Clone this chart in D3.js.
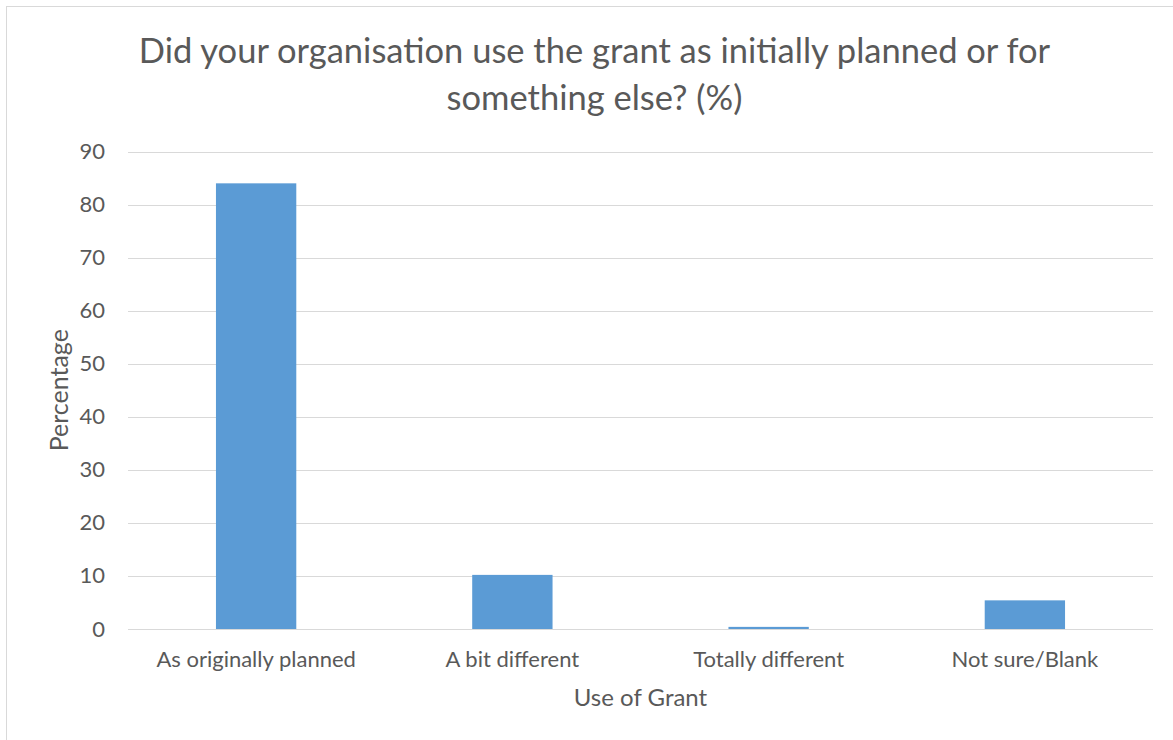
<!DOCTYPE html>
<html>
<head>
<meta charset="utf-8">
<script src="https://cdn.jsdelivr.net/npm/d3@7"></script>
<style>
  html, body { margin: 0; padding: 0; background: #fff; }
  svg { display: block; font-family: Lato, "Open Sans", sans-serif; }
</style>
</head>
<body>
<svg id="chart" width="1173" height="740"></svg>
<script>
// Survey responses: how the grant was used
const categories = ["As originally planned", "A bit different", "Totally different", "Not sure/Blank"];
const percentages = [84.0, 10.2, 0.4, 5.4];
const yTicks = [0, 10, 20, 30, 40, 50, 60, 70, 80, 90];
const titleLines = ["Did your organisation use the grant as initially planned or for", "something else? (%)"];
const xAxisTitle = "Use of Grant";
const yAxisTitle = "Percentage";

const svg = d3.select("#chart");
const textColor = "#595959";
const gridColor = "#d9d9d9";
const barColor = "#5b9bd5";

// chart frame
svg.append("rect")
  .attr("x", 6.5).attr("y", 6.5)
  .attr("width", 1180).attr("height", 760)
  .attr("fill", "#fff")
  .attr("stroke", gridColor).attr("stroke-width", 1);

const plot = { left: 128, right: 1153, top: 151.5, bottom: 629 };

const x = d3.scaleBand()
  .domain(categories)
  .range([plot.left, plot.right])
  .paddingInner(0.6865)
  .paddingOuter(0.34325);

const y = d3.scaleLinear()
  .domain([0, 90])
  .range([plot.bottom, plot.top]);

// horizontal gridlines
svg.append("g")
  .selectAll("line")
  .data(yTicks)
  .join("line")
  .attr("x1", plot.left).attr("x2", plot.right)
  .attr("y1", d => Math.round(y(d)) + 0.5)
  .attr("y2", d => Math.round(y(d)) + 0.5)
  .attr("stroke", gridColor).attr("stroke-width", 1);

// y axis labels
const yAxis = d3.axisLeft(y).tickValues(yTicks).tickSize(0).tickPadding(0);
const yg = svg.append("g")
  .attr("transform", `translate(${plot.left - 23},0)`)
  .call(yAxis);
yg.select(".domain").remove();
yg.selectAll("text")
  .attr("fill", textColor)
  .style("font-size", "22px")
  .style("font-family", "Lato, sans-serif");

// bars
svg.append("g")
  .selectAll("rect")
  .data(categories.map((c, i) => ({ c, v: percentages[i] })))
  .join("rect")
  .attr("x", d => x(d.c))
  .attr("width", x.bandwidth())
  .attr("y", d => y(d.v))
  .attr("height", d => y(0) - y(d.v))
  .attr("fill", barColor);

// x axis labels
const xAxis = d3.axisBottom(x).tickSize(0).tickPadding(0);
const xg = svg.append("g")
  .attr("transform", `translate(0,${plot.bottom + 22})`)
  .call(xAxis);
xg.select(".domain").remove();
xg.selectAll("text")
  .attr("fill", textColor)
  .style("font-size", "22px")
  .style("font-family", "Lato, sans-serif");

// axis titles
svg.append("text")
  .attr("x", (plot.left + plot.right) / 2)
  .attr("y", 706)
  .attr("text-anchor", "middle")
  .attr("fill", textColor)
  .style("font-size", "24px")
  .text(xAxisTitle);

svg.append("text")
  .attr("transform", `translate(68,${(plot.top + plot.bottom) / 2}) rotate(-90)`)
  .attr("text-anchor", "middle")
  .attr("fill", textColor)
  .style("font-size", "25px")
  .text(yAxisTitle);

// title
svg.append("g")
  .selectAll("text")
  .data(titleLines)
  .join("text")
  .attr("x", 594.5)
  .attr("y", (d, i) => 63 + i * 47)
  .attr("text-anchor", "middle")
  .attr("fill", textColor)
  .style("font-size", "34.5px")
  .text(d => d);
</script>
</body>
</html>
